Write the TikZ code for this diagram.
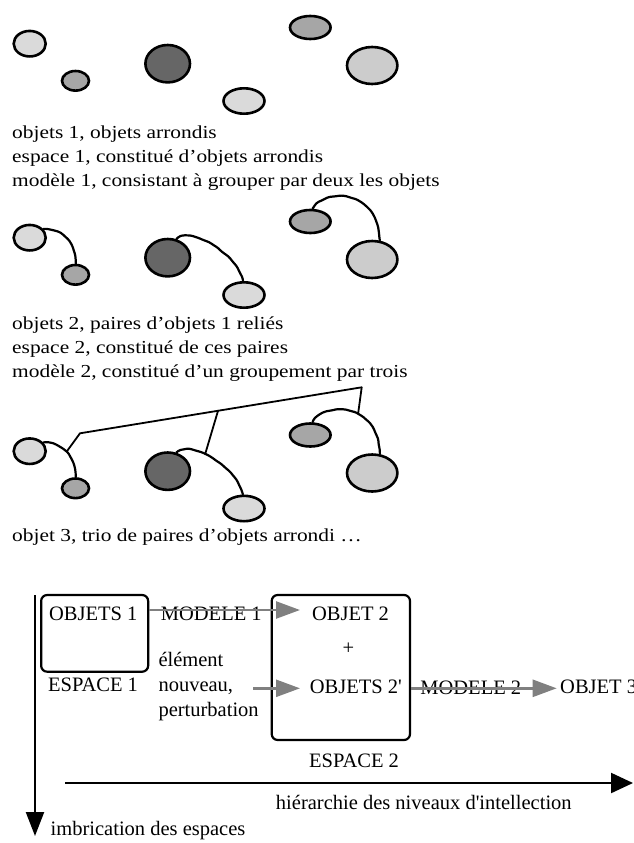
\documentclass[tikz,border=0pt]{standalone}
\usepackage{fontspec}
\setmainfont{Liberation Serif}[Ligatures=TeXOff]
\newfontfamily\topfont{Liberation Serif}[Ligatures=TeXOff,FakeStretch=1.17]
\usetikzlibrary{shapes.geometric,arrows.meta,calc,decorations.pathmorphing}
\definecolor{lightfill}{HTML}{DADADA}
\definecolor{paleFill}{HTML}{CCCCCC}
\definecolor{midfill}{HTML}{A6A6A6}
\definecolor{darkfill}{HTML}{666666}
\definecolor{arrgray}{HTML}{808080}
\begin{document}
\begin{tikzpicture}[x=1pt,y=-1pt,
  ell/.style={ellipse,draw=black,line width=2.6pt,inner sep=0pt},
  eA/.style={ell,fill=lightfill,minimum width=32pt,minimum height=25.5pt},
  eB/.style={ell,fill=midfill,minimum width=27pt,minimum height=19.6pt},
  eC/.style={ell,fill=darkfill,minimum width=44.6pt,minimum height=37.4pt},
  eD/.style={ell,fill=lightfill,minimum width=41pt,minimum height=25.4pt},
  eE/.style={ell,fill=midfill,minimum width=40.6pt,minimum height=23pt},
  eF/.style={ell,fill=paleFill,minimum width=50.4pt,minimum height=37pt},
  link/.style={draw=black,line width=2.2pt,line cap=round,line join=round,
    decorate,decoration={random steps,segment length=4pt,amplitude=0.45pt},rounded corners=1.5pt},
  treeline/.style={draw=black,line width=1.8pt,line cap=round,line join=round},
  toptxt/.style={anchor=base west,inner sep=0pt,font=\topfont\fontsize{18.3}{22}\selectfont},
  bottxt/.style={inner sep=0pt,font=\fontsize{20.5}{24}\selectfont},
  box/.style={draw=black,line width=2.2pt,rounded corners=6pt,inner sep=0pt},
  garrow/.style={draw=arrgray,line width=2.5pt,-{Triangle[length=24pt,width=17pt]}},
  barrow/.style={draw=black,line width=2.2pt,-{Triangle[length=22pt,width=20pt]}}
]
\pgfmathsetseed{7}
\useasboundingbox (0,0) rectangle (633,843);

% ---------- row 1 ----------
\node[eA] (a1) at (29.7,43.7) {};
\node[eB] (a2) at (75.5,80.8) {};
\node[eC] (a3) at (167.7,63.7) {};
\node[eD] (a4) at (244,101) {};
\node[eE] (a5) at (310.3,27.5) {};
\node[eF] (a6) at (372.2,65.5) {};
\node[toptxt] (t11) at (12,138) {objets 1, objets arrondis};
\node[toptxt] (t12) at (12,162) {espace 1, constitué d’objets arrondis};
\node[toptxt] (t13) at (12,186) {modèle 1, consistant à grouper par deux les objets};

% ---------- row 2 ----------
\node[eA] (b1) at (29.7,237.7) {};
\node[eB] (b2) at (75.5,274.8) {};
\node[eC] (b3) at (167.7,257.7) {};
\node[eD] (b4) at (244,295) {};
\node[eE] (b5) at (310.3,221.5) {};
\node[eF] (b6) at (372.2,259.5) {};
\draw[link] (b1.33) .. controls (62,229) and (76,242) .. (b2.north);
\draw[link] (b3.65) .. controls (192,226) and (238,255) .. (b4.95);
\draw[link] (b5.80) .. controls (322,190) and (378,186) .. (b6.68);
\node[toptxt] (t21) at (12,329) {objets 2, paires d’objets 1 reliés};
\node[toptxt] (t22) at (12,353) {espace 2, constitué de ces paires};
\node[toptxt] (t23) at (12,377) {modèle 2, constitué d’un groupement par trois};

% ---------- row 3 ----------
\node[eA] (c1) at (29.7,451.2) {};
\node[eB] (c2) at (75.5,488.3) {};
\node[eC] (c3) at (167.7,471.2) {};
\node[eD] (c4) at (244,508.5) {};
\node[eE] (c5) at (310.3,435) {};
\node[eF] (c6) at (372.2,473) {};
\draw[link] (c1.33) .. controls (62,442.5) and (76,455.5) .. coordinate[pos=0.5] (q1) (c2.north);
\draw[link] (c3.65) .. controls (192,439.5) and (238,468.5) .. coordinate[pos=0.4] (q2) (c4.95);
\draw[link] (c5.80) .. controls (322,403.5) and (378,399.5) .. coordinate[pos=0.6] (q3) (c6.68);
\coordinate (tl) at (80,433.3);
\coordinate (tp) at (361.7,387.3);
\coordinate (tm) at ($(tl)!0.49!(tp)$);
\draw[treeline] (q1) -- (tl) -- (tp) -- (q3);
\draw[treeline] (tm) -- (q2);
\node[toptxt] (t31) at (12,541) {objet 3, trio de paires d’objets arrondi …};

% ---------- bottom scheme ----------
\node[box,minimum width=107pt,minimum height=76.7pt] (box1) at (94.65,633.35) {};
\node[box,minimum width=138.3pt,minimum height=145pt] (box2) at (340.85,667.5) {};
\node[bottxt,anchor=base] (o1) at (93.3,620) {OBJETS 1};
\node[bottxt,anchor=base] (e1) at (93,691.7) {ESPACE 1};
\node[bottxt,anchor=base] (m1) at (211.3,620) {MODELE 1};
\node[bottxt,anchor=base west] (n1) at (158.3,666.7) {élément};
\node[bottxt,anchor=base west] (n2) at (158.3,691.7) {nouveau,};
\node[bottxt,anchor=base west] (n3) at (158.3,716) {perturbation};
\node[bottxt,anchor=base] (o2) at (350.5,620) {OBJET 2};
\node[bottxt] (plus) at (348.3,649) {+};
\node[bottxt,anchor=base] (o2b) at (355.8,693.3) {OBJETS 2'};
\node[bottxt,anchor=base] (m2) at (470.8,694) {MODELE 2};
\node[bottxt,anchor=base west] (o3) at (560,693.3) {OBJET 3};
\node[bottxt,anchor=base] (e2) at (354,767) {ESPACE 2};
\node[bottxt,anchor=base] (hier) at (423.8,809) {hiérarchie des niveaux d'intellection};
\node[bottxt,anchor=base west] (imb) at (50.5,835) {imbrication des espaces};

\coordinate (k1) at (300,610);
\coordinate (k2s) at (253.3,688.3);
\coordinate (k2) at (300,688.3);
\coordinate (k3) at (556.7,688.3);
\draw[garrow] (box1.east |- k1) -- (k1);
\draw[garrow] (k2s) -- (k2);
\draw[garrow] (box2.east |- k3) -- (k3);

\coordinate (h0) at (65,783);
\coordinate (h1) at (633,783);
\coordinate (v0) at (35,595);
\coordinate (v1) at (35,836);
\draw[barrow] (h0) -- (h1);
\draw[barrow,-{Triangle[length=24pt,width=18pt]}] (v0) -- (v1);
\end{tikzpicture}
\end{document}
